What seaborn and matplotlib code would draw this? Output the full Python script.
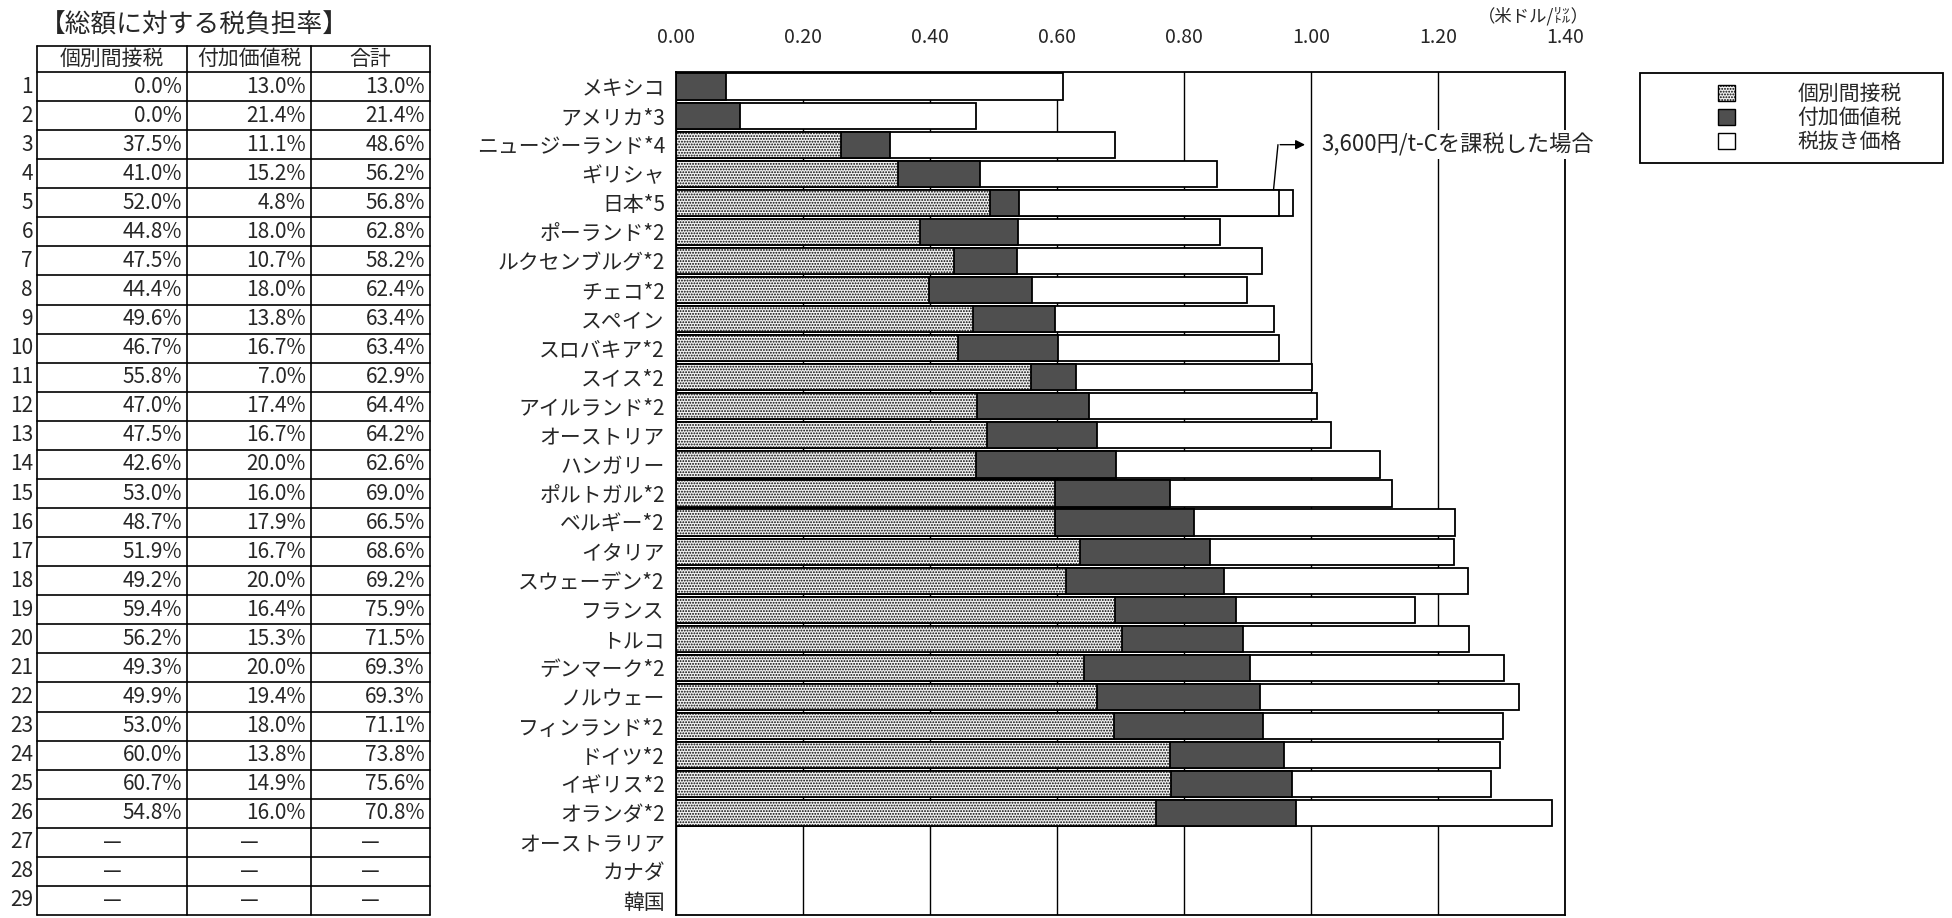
import matplotlib
matplotlib.use('Agg')
import matplotlib.pyplot as plt
from matplotlib.patches import Patch, Rectangle
import numpy as np
import pandas as pd
import seaborn as sns

# 国名 (上から順)
countries = ['メキシコ', 'アメリカ*3', 'ニュージーランド*4', 'ギリシャ', '日本*5', 'ポーランド*2',
             'ルクセンブルグ*2', 'チェコ*2', 'スペイン', 'スロバキア*2', 'スイス*2', 'アイルランド*2',
             'オーストリア', 'ハンガリー', 'ポルトガル*2', 'ベルギー*2', 'イタリア', 'スウェーデン*2',
             'フランス', 'トルコ', 'デンマーク*2', 'ノルウェー', 'フィンランド*2', 'ドイツ*2',
             'イギリス*2', 'オランダ*2', 'オーストラリア', 'カナダ', '韓国']

# 税込価格 (米ドル/リットル)  最後の3か国はデータなし
total_price = [0.609, 0.472, 0.692, 0.852, 0.950, 0.857, 0.923, 0.899, 0.942, 0.950,
               1.002, 1.010, 1.032, 1.108, 1.127, 1.226, 1.225, 1.247, 1.164, 1.249,
               1.304, 1.328, 1.302, 1.297, 1.284, 1.380, np.nan, np.nan, np.nan]
japan_carbon_tax_price = 0.971   # 3,600円/t-Cを課税した場合

# 【総額に対する税負担率】 (%)
indirect_pct = [0.0, 0.0, 37.5, 41.0, 52.0, 44.8, 47.5, 44.4, 49.6, 46.7, 55.8, 47.0, 47.5,
                42.6, 53.0, 48.7, 51.9, 49.2, 59.4, 56.2, 49.3, 49.9, 53.0, 60.0, 60.7, 54.8]
vat_pct = [13.0, 21.4, 11.1, 15.2, 4.8, 18.0, 10.7, 18.0, 13.8, 16.7, 7.0, 17.4, 16.7,
           20.0, 16.0, 17.9, 16.7, 20.0, 16.4, 15.3, 20.0, 19.4, 18.0, 13.8, 14.9, 16.0]
sum_pct = [13.0, 21.4, 48.6, 56.2, 56.8, 62.8, 58.2, 62.4, 63.4, 63.4, 62.9, 64.4, 64.2,
           62.6, 69.0, 66.5, 68.6, 69.2, 75.9, 71.5, 69.3, 69.3, 71.1, 73.8, 75.6, 70.8]

table_header = ['個別間接税', '付加価値税', '合計']
legend_labels = ['個別間接税', '付加価値税', '税抜き価格']

n_missing = len(countries) - len(indirect_pct)
ind = np.array(indirect_pct + [np.nan] * n_missing)
vat = np.array(vat_pct + [np.nan] * n_missing)
tot = np.array(total_price)

df = pd.DataFrame({
    'country': countries,
    'total': tot,
    'tax_end': tot * (ind + vat) / 100,
    'indirect_end': tot * ind / 100,
    'carbon': [japan_carbon_tax_price if c == '日本*5' else np.nan for c in countries],
})

sns.set_style('white')
plt.rcParams['font.family'] = ['Noto Sans CJK JP', 'DejaVu Sans']
plt.rcParams['hatch.linewidth'] = 0.9

W, H = 1952, 918
fig = plt.figure(figsize=(W / 100, H / 100), dpi=100)
ax_top, ax_bot = 72, 915
y0 = 1 - ax_bot / H
hgt = (ax_bot - ax_top) / H
ax = fig.add_axes([676 / W, y0, (1565 - 676) / W, hgt])

stipple_hatch = '......'
light = '#f2f2f2'
dark = '#4f4f4f'

bar_kw = dict(order=countries, orient='h', errorbar=None, saturation=1,
              edgecolor='black', linewidth=1.3, width=0.9, ax=ax)
# 奥から順に重ねて積み上げ棒にする
sns.barplot(data=df, x='carbon', y='country', color='white', **bar_kw)
sns.barplot(data=df, x='total', y='country', color='white', **bar_kw)
sns.barplot(data=df, x='tax_end', y='country', color=dark, **bar_kw)
sns.barplot(data=df, x='indirect_end', y='country', color=light, **bar_kw)
for bar in ax.containers[-1]:
    bar.set_hatch(stipple_hatch)

ax.set_xlim(0, 1.40)
ax.set_ylim(len(countries) - 0.5, -0.5)
ticks = np.arange(0, 1.41, 0.2)
ax.set_xticks(ticks)
ax.set_xticklabels([f'{v:.2f}' for v in ticks])
ax.xaxis.tick_top()
ax.tick_params(axis='x', length=0, pad=17, labelsize=14)
ax.tick_params(axis='y', length=0, pad=8, labelsize=15)
ax.set_xlabel('')
ax.set_ylabel('')
ax.xaxis.grid(True, color='black', linewidth=1.0)
ax.set_axisbelow(True)
for s in ax.spines.values():
    s.set_visible(True)
    s.set_color('black')
    s.set_linewidth(1.3)

# 注記
jp = countries.index('日本*5')
ax.plot([0.941, 0.948], [jp - 0.45, 2.0], color='black', lw=1.0)
ax.annotate('', xy=(0.995, 2.0), xytext=(0.947, 2.0),
            arrowprops=dict(arrowstyle='-|>', color='black', lw=1.0, mutation_scale=14))
ax.text(1.017, 2.0, '3,600円/t-Cを課税した場合', va='center', ha='left', fontsize=16,
        bbox=dict(facecolor='white', edgecolor='none', pad=2))

fig.text(1533 / W, 1 - 16 / H, '（米ドル/㍑）', ha='center', va='center', fontsize=12.5)

# 凡例
handles = [Patch(facecolor=light, edgecolor='black', hatch=stipple_hatch),
           Patch(facecolor=dark, edgecolor='black'),
           Patch(facecolor='white', edgecolor='black')]
fig.legend(handles, legend_labels, loc='center left', frameon=False,
           bbox_to_anchor=(1708 / W, 1 - 118 / H), fontsize=15, handlelength=0.8,
           handleheight=0.8, handletextpad=3.0, labelspacing=0.1, borderpad=0)
fig.patches.append(Rectangle((1640 / W, 1 - 163 / H), 303 / W, 90 / H, fill=False,
                             edgecolor='black', linewidth=1.3, transform=fig.transFigure))

# 左の表
ax_t = fig.add_axes([0, y0, 450 / W, hgt])
ax_t.set_xlim(0, 450)
ax_t.set_ylim(len(countries) - 0.5, -0.5)
ax_t.axis('off')
col_edges = [37, 187, 311, 430]
head_top = -1.4
for x in col_edges:
    ax_t.plot([x, x], [head_top, len(countries) - 0.5], color='black', lw=1.2, clip_on=False)
for y in [head_top] + list(np.arange(len(countries) + 1) - 0.5):
    ax_t.plot([col_edges[0], col_edges[-1]], [y, y], color='black', lw=1.2, clip_on=False)
for j, name in enumerate(table_header):
    ax_t.text((col_edges[j] + col_edges[j + 1]) / 2, (head_top - 0.5) / 2, name,
              ha='center', va='center', fontsize=15, clip_on=False)
for i in range(len(countries)):
    ax_t.text(33, i, str(i + 1), ha='right', va='center', fontsize=15)
    if i < len(indirect_pct):
        vals = [indirect_pct[i], vat_pct[i], sum_pct[i]]
        for j, v in enumerate(vals):
            ax_t.text(col_edges[j + 1] - 5, i, f'{v:.1f}%', ha='right', va='center', fontsize=15)
    else:
        for j in range(3):
            ax_t.text((col_edges[j] + col_edges[j + 1]) / 2, i, '—', ha='center',
                      va='center', fontsize=15)

fig.text(40 / W, 1 - 26 / H, '【総額に対する税負担率】', ha='left', va='center', fontsize=18.5)

fig.savefig('out.png', dpi=100)
